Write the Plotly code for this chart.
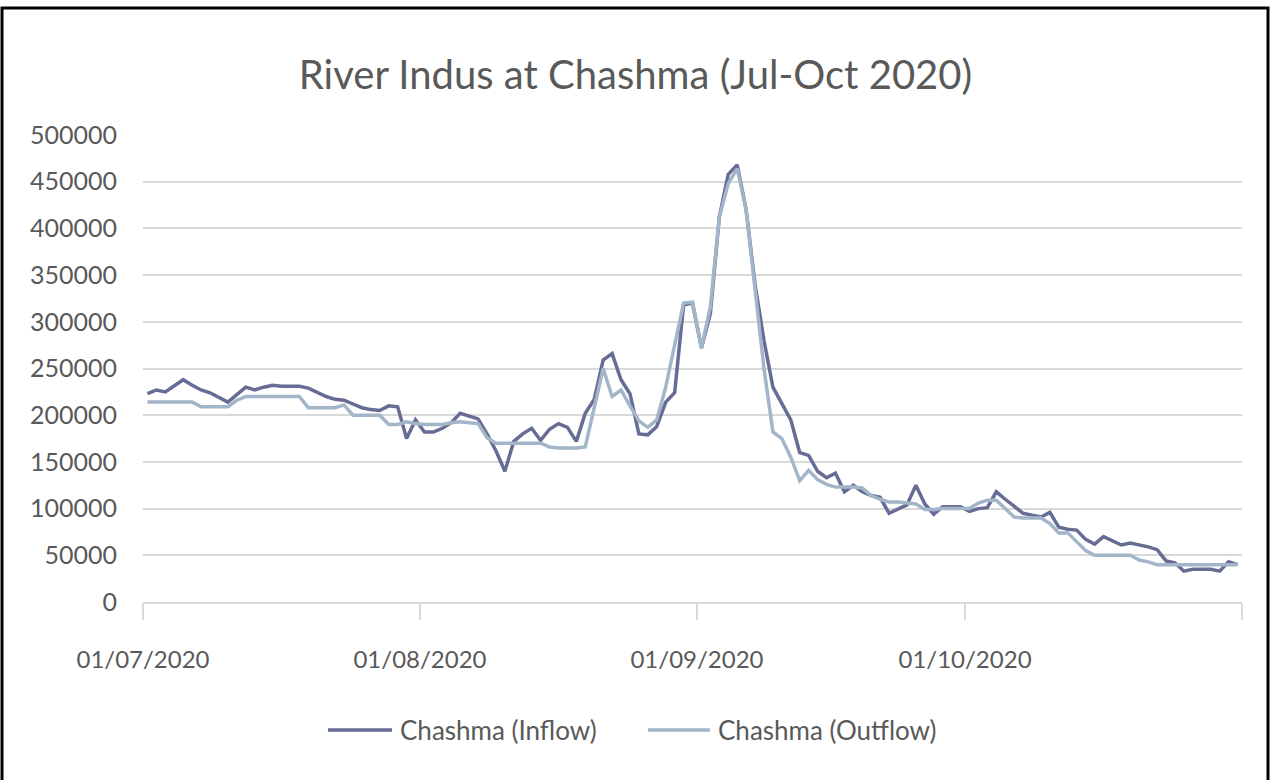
import pandas as pd
import plotly.graph_objects as go

# Daily flows at Chashma barrage, 1 Jul – 31 Oct 2020 (cusecs).
# Each day is plotted in the middle of its slot on the date axis.
dates = pd.date_range("2020-07-01 12:00", "2020-10-31 12:00", freq="D")

inflow = [
    223000, 227000, 225000, 232000, 238000, 232000, 227000, 224000, 219000, 214000,  # Jul 1-10
    222000, 230000, 227000, 230000, 232000, 231000, 231000, 231000, 229000, 224000,  # Jul 11-20
    220000, 217000, 216000, 212000, 208000, 206000, 205000, 210000, 209000, 175000,  # Jul 21-30
    195000,                                                                          # Jul 31
    182000, 182000, 186000, 192000, 202000, 199000, 196000, 180000, 162000, 140000,  # Aug 1-10
    172000, 180000, 186000, 173000, 185000, 191000, 187000, 172000, 202000, 217000,  # Aug 11-20
    259000, 266000, 238000, 223000, 180000, 179000, 188000, 214000, 224000, 318000,  # Aug 21-30
    320000,                                                                          # Aug 31
    272000, 309000, 412000, 458000, 468000, 420000, 340000, 280000, 230000, 213000,  # Sep 1-10
    195000, 160000, 157000, 140000, 133000, 138000, 118000, 125000, 118000, 114000,  # Sep 11-20
    112000, 95000, 100000, 104000, 125000, 105000, 94000, 102000, 102000, 102000,    # Sep 21-30
    97000, 100000, 101000, 118000, 110000, 103000, 95000, 93000, 91000, 96000,       # Oct 1-10
    80000, 78000, 77000, 67000, 62000, 70000, 66000, 61000, 63000, 61000,            # Oct 11-20
    59000, 56000, 44000, 42000, 33000, 35000, 35000, 35000, 33000, 43000,            # Oct 21-30
    40000,                                                                           # Oct 31
]

outflow = [
    214000, 214000, 214000, 214000, 214000, 214000, 209000, 209000, 209000, 209000,  # Jul 1-10
    216000, 220000, 220000, 220000, 220000, 220000, 220000, 220000, 208000, 208000,  # Jul 11-20
    208000, 208000, 211000, 200000, 200000, 200000, 200000, 190000, 190000, 193000,  # Jul 21-30
    191000,                                                                          # Jul 31
    190000, 190000, 190000, 192000, 193000, 192000, 191000, 176000, 170000, 170000,  # Aug 1-10
    170000, 170000, 170000, 170000, 166000, 165000, 165000, 165000, 166000, 210000,  # Aug 11-20
    250000, 220000, 227000, 210000, 194000, 187000, 195000, 230000, 275000, 320000,  # Aug 21-30
    321000,                                                                          # Aug 31
    272000, 316000, 412000, 448000, 464000, 420000, 335000, 250000, 182000, 175000,  # Sep 1-10
    155000, 130000, 141000, 131000, 126000, 123000, 123000, 123000, 122000, 114000,  # Sep 11-20
    110000, 107000, 107000, 106000, 105000, 99000, 99000, 100000, 100000, 100000,    # Sep 21-30
    100000, 106000, 109000, 109000, 100000, 91000, 90000, 90000, 90000, 84000,       # Oct 1-10
    74000, 74000, 64000, 55000, 50000, 50000, 50000, 50000, 50000, 45000,            # Oct 11-20
    43000, 40000, 40000, 40000, 40000, 40000, 40000, 40000, 40000, 40000,            # Oct 21-30
    40000,                                                                           # Oct 31
]

series_names = ["Chashma (Inflow)", "Chashma (Outflow)"]
series_colors = ["#676c95", "#a2b5c9"]

tick_dates = ["2020-07-01", "2020-08-01", "2020-09-01", "2020-10-01", "2020-11-01"]
tick_text = ["01/07/2020", "01/08/2020", "01/09/2020", "01/10/2020", ""]
y_ticks = list(range(0, 500001, 50000))

FONT = "Lato"
GREY = "#595959"
GRID = "#d9d9d9"

W, H = 1271, 780
L, R, T, B = 143, 29, 135, 178
pw, ph = W - L - R, H - T - B


def px_to_paper_x(px):
    return (px - L) / pw


def px_to_paper_y(py):
    return 1 - (py - T) / ph


fig = go.Figure()
for name, values, color in zip(series_names, [inflow, outflow], series_colors):
    fig.add_trace(go.Scatter(
        x=dates, y=values, name=name, mode="lines",
        line=dict(color=color, width=3.5), showlegend=False,
    ))

# Legend drawn below the axis: a short line sample followed by the series name
legend_y = px_to_paper_y(730)
legend_items = [(328, 392, 398), (648, 710, 716)]
shapes = []
annotations = []
for (x0, x1, tx), name, color in zip(legend_items, series_names, series_colors):
    shapes.append(dict(
        type="line", xref="paper", yref="paper",
        x0=px_to_paper_x(x0), x1=px_to_paper_x(x1), y0=legend_y, y1=legend_y,
        line=dict(color=color, width=3.5),
    ))
    annotations.append(dict(
        xref="paper", yref="paper", x=px_to_paper_x(tx), y=legend_y,
        xanchor="left", yanchor="middle", text=name, showarrow=False,
        font=dict(family=FONT, size=26, color=GREY),
    ))

# Outer frame of the chart
shapes.append(dict(
    type="rect", xref="paper", yref="paper",
    x0=px_to_paper_x(2), x1=px_to_paper_x(1268),
    y0=px_to_paper_y(790), y1=px_to_paper_y(8),
    line=dict(color="black", width=3), fillcolor="rgba(0,0,0,0)",
    layer="above",
))

fig.update_layout(
    width=W, height=H,
    margin=dict(l=L, r=R, t=T, b=B),
    paper_bgcolor="white", plot_bgcolor="white",
    title=dict(
        text="River Indus at Chashma (Jul-Oct 2020)",
        x=0.5, xanchor="center", y=1 - 75 / H, yanchor="middle",
        font=dict(family=FONT, size=40, color=GREY),
    ),
    xaxis=dict(
        type="date", range=["2020-07-01", "2020-11-01"],
        tickvals=tick_dates, ticktext=tick_text,
        showgrid=False, showline=True, linecolor=GRID, linewidth=1.5,
        ticks="outside", ticklen=16, tickcolor=GRID, tickwidth=1.5,
        ticklabelstandoff=19,
        tickfont=dict(family=FONT, size=24, color=GREY),
        zeroline=False,
    ),
    yaxis=dict(
        range=[0, 500000], tickvals=y_ticks,
        tickformat="d",
        showgrid=True, gridcolor=GRID, gridwidth=1.5,
        zeroline=False, showline=False,
        ticklabelstandoff=25,
        tickfont=dict(family=FONT, size=25, color=GREY),
    ),
    showlegend=False,
    shapes=shapes,
    annotations=annotations,
)

fig.write_html("out.html")
